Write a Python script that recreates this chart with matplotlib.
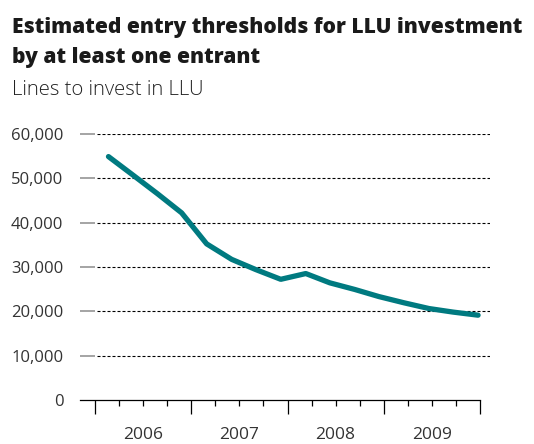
import matplotlib
matplotlib.use("Agg")
import matplotlib.pyplot as plt
import matplotlib.transforms as mtransforms

# data
years = [2006, 2007, 2008, 2009]
# x positions of the points as fractional years (roughly quarterly)
dates = [2006.14, 2006.39, 2006.65, 2006.90, 2007.16, 2007.42, 2007.67, 2007.93,
         2008.19, 2008.44, 2008.70, 2008.95, 2009.21, 2009.47, 2009.72, 2009.98]
lines_needed = [54900, 50800, 46500, 42200, 35200, 31700, 29400, 27200,
                28500, 26400, 24900, 23300, 21900, 20600, 19800, 19100]
y_ticks = [0, 10000, 20000, 30000, 40000, 50000, 60000]

W, H = 534, 444
fig = plt.figure(figsize=(W / 100, H / 100), dpi=100)

# axes placed in pixel terms
left_px, right_px, bottom_px, top_px = 80, 490, 399.8, 134
ax = fig.add_axes([left_px / W, 1 - bottom_px / H,
                   (right_px - left_px) / W, (bottom_px - top_px) / H])

px_per_year = 96.25
x_left = 2006 - 15 / px_per_year
x_right = 2010 + 10 / px_per_year
ax.set_xlim(x_left, x_right)
ax.set_ylim(0, 60000)

teal = "#007A80"
ax.plot(dates, lines_needed, color=teal, lw=3.8, solid_capstyle="round",
        solid_joinstyle="round", zorder=3)

# dotted gridlines that start right of the short grey ticks
grid_start = 2006 + 2 / px_per_year
ax.hlines(y_ticks[1:], grid_start, x_right, colors="black",
          linestyles=(0, (2.7, 1.8)), linewidth=0.8, zorder=1)

for side in ["top", "right", "left"]:
    ax.spines[side].set_visible(False)
ax.spines["bottom"].set_bounds(x_left, 2010)
ax.spines["bottom"].set_linewidth(0.9)
ax.spines["bottom"].set_zorder(4)

# y axis
ax.set_yticks(y_ticks)
ax.set_yticklabels([f"{v:,}" for v in y_ticks])
ax.tick_params(axis="y", direction="in", length=10.5, width=1.1, color="#8c8c8c",
               pad=12, labelsize=12, labelcolor="#333333")
ax.yaxis.get_major_ticks()[0].tick1line.set_visible(False)

# x axis: long ticks at year boundaries, short ones at quarters
ax.set_xticks(years + [2010])
ax.set_xticklabels([])
ax.set_xticks([y + q / 4 for y in years for q in (1, 2, 3)], minor=True)
ax.tick_params(axis="x", which="major", direction="out", length=10, width=0.9,
               color="black")
ax.tick_params(axis="x", which="minor", direction="out", length=4.3, width=0.9,
               color="black")

trans = mtransforms.blended_transform_factory(ax.transData, ax.transAxes)
for y in years:
    ax.text(y + 0.5, -0.132, str(y), transform=trans, ha="center", va="center",
            fontsize=12.5, color="#333333", family="Open Sans")

for lab in ax.get_yticklabels():
    lab.set_family("Open Sans")

# titles
fig.text(12 / W, 1 - 33.3 / H, "Estimated entry thresholds for LLU investment",
         fontsize=15.1, fontweight=800, family="Open Sans", color="#1a1a1a",
         va="baseline", ha="left")
fig.text(12 / W, 1 - 63.3 / H, "by at least one entrant",
         fontsize=15.1, fontweight=800, family="Open Sans", color="#1a1a1a",
         va="baseline", ha="left")
fig.text(12 / W, 1 - 95 / H, "Lines to invest in LLU",
         fontsize=14.6, fontweight="light", family="Open Sans", color="#222222",
         va="baseline", ha="left")

fig.savefig("out.png", dpi=100)
